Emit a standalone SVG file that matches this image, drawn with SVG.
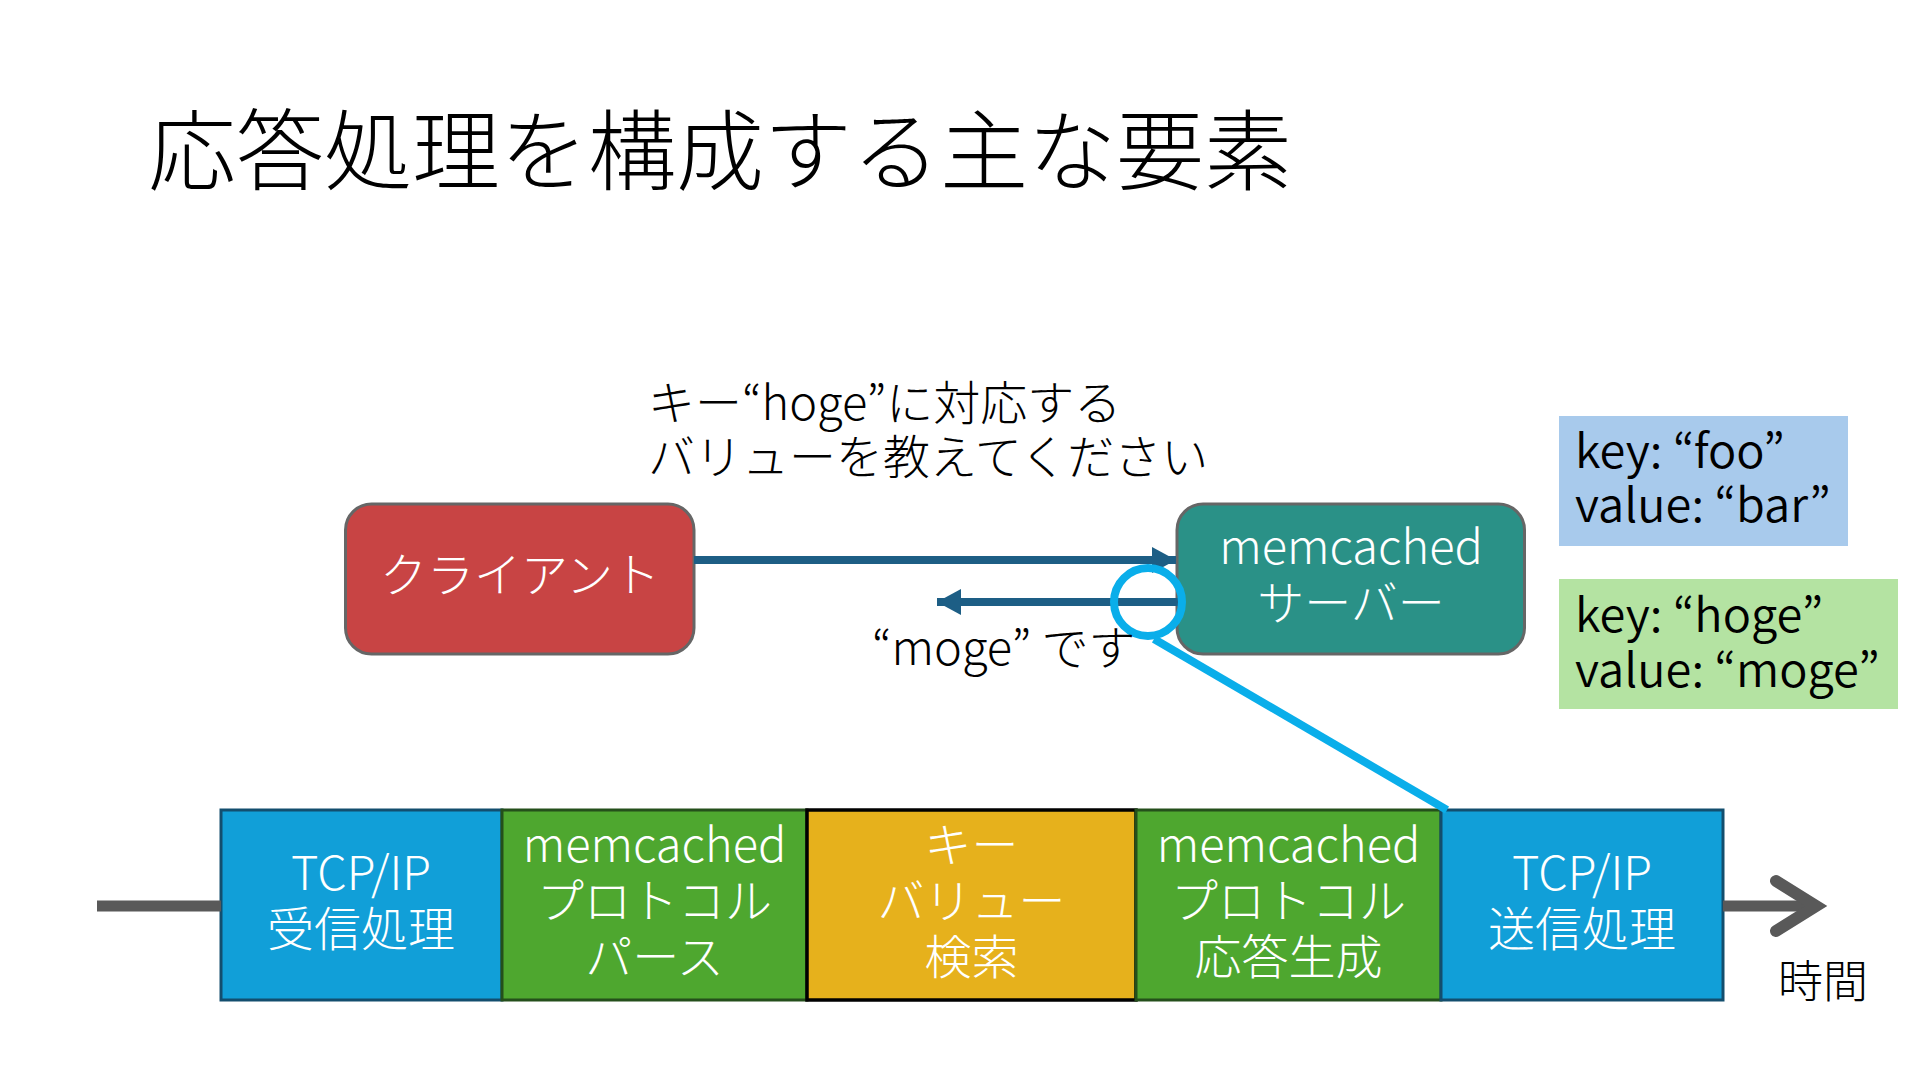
<svg xmlns="http://www.w3.org/2000/svg" width="1920" height="1080" viewBox="0 0 1920 1080">
<defs>
<style>
text{font-family:"Noto Sans CJK JP","Noto Sans",sans-serif;}
.title{font-size:88px;font-weight:300;fill:#000;}
.lbl{font-size:47px;font-weight:300;fill:#000;}
.wt{font-size:47px;font-weight:300;fill:#fff;text-anchor:middle;}
.kv{font-size:47px;font-weight:350;fill:#000;}
.rbox{stroke:#666;stroke-width:3;}
.seg{stroke-width:3;}
.arr{stroke:#1D5E85;stroke-width:8;fill:none;}
</style>
<marker id="ah" viewBox="0 0 24 26" refX="24" refY="13" markerWidth="24" markerHeight="26" markerUnits="userSpaceOnUse" orient="auto">
<path d="M0,0 L24,13 L0,26 Z" fill="#1D5E85"/>
</marker>
</defs>
<rect width="1920" height="1080" fill="#fff"/>
<text class="title" x="148" y="183">応答処理を構成する主な要素</text>
<text class="lbl" x="648" y="420">キー“hoge”に対応する</text>
<text class="lbl" x="648" y="474">バリューを教えてください</text>
<g id="client">
<rect class="rbox" x="345.5" y="504" width="348.5" height="150" rx="26" fill="#C84444"/>
<text class="wt" x="520" y="592">クライアント</text>
</g>
<g id="server">
<rect class="rbox" x="1177" y="504" width="347.5" height="150" rx="26" fill="#2A9187"/>
<text class="wt" x="1351" y="564">memcached</text>
<text class="wt" x="1351" y="620">サーバー</text>
</g>
<g id="kv-foo">
<rect x="1559" y="416" width="289" height="130" fill="#A8CAEC"/>
<text class="kv" x="1575" y="468">key: “foo”</text>
<text class="kv" x="1575" y="522">value: “bar”</text>
</g>
<g id="kv-hoge">
<rect x="1559" y="579" width="339" height="130" fill="#B4E3A2"/>
<text class="kv" x="1575" y="632">key: “hoge”</text>
<text class="kv" x="1575" y="687">value: “moge”</text>
</g>
<g id="timeline-segments">
<g id="seg-recv">
<rect class="seg" x="221" y="810" width="281" height="190" fill="#119FD8" stroke="#134E6E"/>
<text class="wt" x="361" y="890">TCP/IP</text>
<text class="wt" x="361" y="946">受信処理</text>
</g>
<g id="seg-parse">
<rect class="seg" x="502" y="810" width="305" height="190" fill="#4EA72F" stroke="#244F1B"/>
<text class="wt" x="654.5" y="862">memcached</text>
<text class="wt" x="654.5" y="918">プロトコル</text>
<text class="wt" x="654.5" y="974">パース</text>
</g>
<g id="seg-search">
<rect x="807" y="810" width="329" height="190" fill="#E6B11C" stroke="#000" stroke-width="3.5"/>
<text class="wt" x="971.5" y="862">キー</text>
<text class="wt" x="971.5" y="918">バリュー</text>
<text class="wt" x="971.5" y="974">検索</text>
</g>
<g id="seg-resp">
<rect class="seg" x="1136" y="810" width="305" height="190" fill="#4EA72F" stroke="#244F1B"/>
<text class="wt" x="1288.5" y="862">memcached</text>
<text class="wt" x="1288.5" y="918">プロトコル</text>
<text class="wt" x="1288.5" y="974">応答生成</text>
</g>
<g id="seg-send">
<rect class="seg" x="1441" y="810" width="282" height="190" fill="#119FD8" stroke="#134E6E"/>
<text class="wt" x="1582" y="890">TCP/IP</text>
<text class="wt" x="1582" y="946">送信処理</text>
</g>
</g>
<text class="lbl" x="1778" y="998" style="font-size:45px">時間</text>
<g id="connectors">
<line class="arr" x1="694" y1="560" x2="1176" y2="560" marker-end="url(#ah)"/>
<line class="arr" x1="1178" y1="602" x2="937" y2="602" marker-end="url(#ah)"/>
<line x1="97" y1="906" x2="221" y2="906" stroke="#595959" stroke-width="11"/>
<line x1="1723" y1="906" x2="1814" y2="906" stroke="#595959" stroke-width="11"/>
<polyline points="1776,881 1816,906 1776,931" fill="none" stroke="#595959" stroke-width="12" stroke-linecap="round" stroke-linejoin="miter"/>
<circle cx="1148" cy="602" r="34" fill="none" stroke="#0AAEEA" stroke-width="8"/>
<line x1="1154" y1="639" x2="1447" y2="810" stroke="#0AAEEA" stroke-width="8"/>
</g>
<text class="lbl" x="872" y="665">“moge” です</text>
</svg>
